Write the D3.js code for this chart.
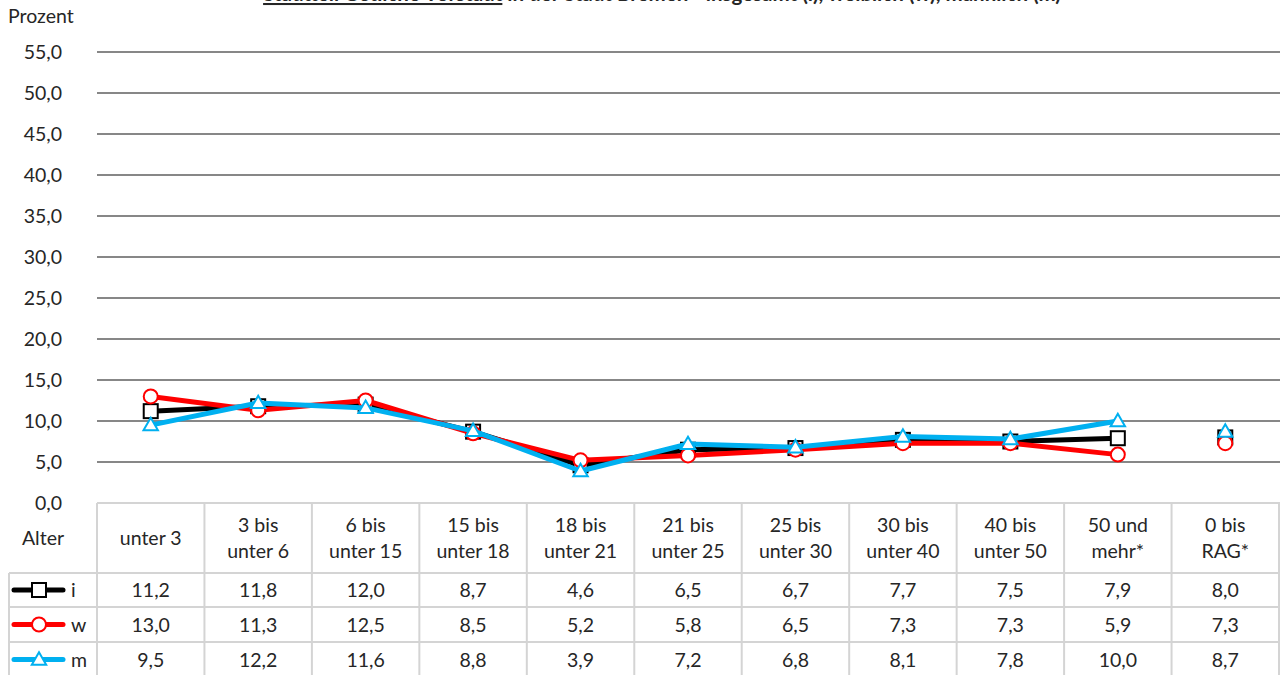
<!DOCTYPE html>
<html>
<head>
<meta charset="utf-8">
<script src="https://cdn.jsdelivr.net/npm/d3@7"></script>
<style>
  body { margin: 0; background: #fff; }
  text { font-family: Lato, "Open Sans", sans-serif; }
</style>
</head>
<body>
<div id="chart"></div>
<script>
// age groups (two lines each, for the table header)
var ageGroups = [
    ["unter 3"], ["3 bis", "unter 6"], ["6 bis", "unter 15"], ["15 bis", "unter 18"],
    ["18 bis", "unter 21"], ["21 bis", "unter 25"], ["25 bis", "unter 30"],
    ["30 bis", "unter 40"], ["40 bis", "unter 50"], ["50 und", "mehr*"], ["0 bis", "RAG*"]
]
var seriesNames = ["i", "w", "m"]
var valuesI = [11.2, 11.8, 12.0, 8.7, 4.6, 6.5, 6.7, 7.7, 7.5, 7.9, 8.0]
var valuesW = [13.0, 11.3, 12.5, 8.5, 5.2, 5.8, 6.5, 7.3, 7.3, 5.9, 7.3]
var valuesM = [9.5, 12.2, 11.6, 8.8, 3.9, 7.2, 6.8, 8.1, 7.8, 10.0, 8.7]
var yTicks = [0, 5, 10, 15, 20, 25, 30, 35, 40, 45, 50, 55]

var width = 1282, height = 675
var fontSize = "19.5px"
var textColor = "#262626"
var colors = { i: "#000000", w: "#ff0000", m: "#00b0f0" }
var allValues = { i: valuesI, w: valuesW, m: valuesM }

var svg = d3.select("#chart").append("svg")
    .attr("width", width)
    .attr("height", height)

var keys = ageGroups.map(function (d, i) { return i })

var x = d3.scaleBand()
    .domain(keys)
    .range([97, 1279])

var y = d3.scaleLinear()
    .domain([0, 55])
    .range([503, 52])

var fmt = function (v) { return v.toFixed(1).replace(".", ",") }

// title (cut off at the top edge, as in the original)
var title = svg.append("text")
    .attr("x", 662)
    .attr("y", 1)
    .attr("text-anchor", "middle")
    .style("font-size", "20.5px")
    .style("font-weight", "bold")
    .attr("fill", textColor)
title.append("tspan").style("text-decoration", "underline").text("Stadtteil Östliche Vorstadt")
title.append("tspan").text(" in der Stadt Bremen - insgesamt (i), weiblich (w), männlich (m)")

svg.append("text")
    .attr("x", 8)
    .attr("y", 23)
    .style("font-size", fontSize)
    .attr("fill", textColor)
    .text("Prozent")

// gridlines
svg.append("g").selectAll("line")
    .data(yTicks.filter(function (t) { return t > 0 }))
    .enter()
    .append("line")
    .attr("x1", 97)
    .attr("x2", 1280)
    .attr("y1", function (d) { return y(d) })
    .attr("y2", function (d) { return y(d) })
    .attr("stroke", "#878787")
    .attr("stroke-width", 2)

svg.append("g").selectAll("text")
    .data(yTicks)
    .enter()
    .append("text")
    .attr("x", 62)
    .attr("y", function (d) { return y(d) + 7 })
    .attr("text-anchor", "end")
    .style("font-size", fontSize)
    .attr("fill", textColor)
    .text(function (d) { return fmt(d) })

// table
var rowTops = [503, 573, 607, 642, 677]
var tableColor = "#d4d4d4"
var table = svg.append("g")

table.append("line").attr("x1", 97).attr("x2", 1280).attr("y1", rowTops[0]).attr("y2", rowTops[0])
    .attr("stroke", tableColor).attr("stroke-width", 2)
for (var r = 1; r < rowTops.length; r++) {
    table.append("line").attr("x1", 9).attr("x2", 1280).attr("y1", rowTops[r]).attr("y2", rowTops[r])
        .attr("stroke", tableColor).attr("stroke-width", 2)
}
var colEdges = keys.map(function (k) { return x(k) }).concat([x.range()[1]])
table.selectAll(".vline")
    .data(colEdges)
    .enter()
    .append("line")
    .attr("x1", function (d) { return d })
    .attr("x2", function (d) { return d })
    .attr("y1", rowTops[0])
    .attr("y2", height)
    .attr("stroke", tableColor)
    .attr("stroke-width", 2)
table.append("line").attr("x1", 9).attr("x2", 9).attr("y1", rowTops[1]).attr("y2", height)
    .attr("stroke", tableColor).attr("stroke-width", 2)

table.append("text")
    .attr("x", 43)
    .attr("y", 545)
    .attr("text-anchor", "middle")
    .style("font-size", fontSize)
    .attr("fill", textColor)
    .text("Alter")

// header labels
ageGroups.forEach(function (lines, k) {
    var cx = x(k) + x.bandwidth() / 2
    var t = table.append("text")
        .attr("text-anchor", "middle")
        .style("font-size", fontSize)
        .attr("fill", textColor)
    if (lines.length == 1) {
        t.append("tspan").attr("x", cx).attr("y", 545).text(lines[0])
    } else {
        t.append("tspan").attr("x", cx).attr("y", 532).text(lines[0])
        t.append("tspan").attr("x", cx).attr("y", 558).text(lines[1])
    }
})

function drawMarker(g, name, cx, cy) {
    if (name == "i") {
        g.append("rect").attr("x", cx - 7).attr("y", cy - 7).attr("width", 14).attr("height", 14)
            .attr("fill", "#fff").attr("stroke", colors.i).attr("stroke-width", 2)
    } else if (name == "w") {
        g.append("circle").attr("cx", cx).attr("cy", cy).attr("r", 7)
            .attr("fill", "#fff").attr("stroke", colors.w).attr("stroke-width", 2)
    } else {
        var s = d3.symbol().type(d3.symbolTriangle).size(90)
        g.append("path").attr("d", s()).attr("transform", "translate(" + cx + "," + (cy + 1) + ")")
            .attr("fill", "#fff").attr("stroke", colors.m).attr("stroke-width", 2)
    }
}

// data rows with legend keys
seriesNames.forEach(function (name, r) {
    var cy = (rowTops[r + 1] + rowTops[r + 2]) / 2
    table.append("line")
        .attr("x1", 14).attr("x2", 63)
        .attr("y1", cy).attr("y2", cy)
        .attr("stroke", colors[name])
        .attr("stroke-width", 5)
        .attr("stroke-linecap", "round")
    drawMarker(table, name, 39, cy)
    table.append("text")
        .attr("x", 71)
        .attr("y", cy + 7)
        .style("font-size", fontSize)
        .attr("fill", textColor)
        .text(name)
    table.append("g").selectAll("text")
        .data(allValues[name])
        .enter()
        .append("text")
        .attr("x", function (d, k) { return x(k) + x.bandwidth() / 2 })
        .attr("y", cy + 7)
        .attr("text-anchor", "middle")
        .style("font-size", fontSize)
        .attr("fill", textColor)
        .text(function (d) { return fmt(d) })
})

// lines: first ten groups connected, "0 bis RAG*" stands alone
var line = d3.line()
    .defined(function (d, k) { return k < 10 })
    .x(function (d, k) { return x(k) + x.bandwidth() / 2 })
    .y(function (d) { return y(d) })

seriesNames.forEach(function (name) {
    var g = svg.append("g")
    g.append("path")
        .datum(allValues[name])
        .attr("d", line)
        .attr("fill", "none")
        .attr("stroke", colors[name])
        .attr("stroke-width", 5)
        .attr("stroke-linejoin", "round")
    allValues[name].forEach(function (v, k) {
        drawMarker(g, name, x(k) + x.bandwidth() / 2, y(v))
    })
})
</script>
</body>
</html>
